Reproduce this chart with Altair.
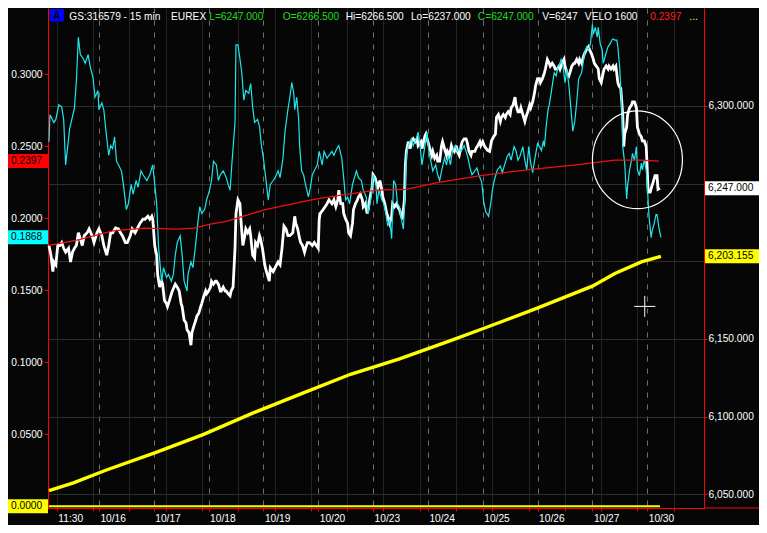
import altair as alt
import pandas as pd

# ---------------- data (bar index = 15-min bar position) ----------------
white = [(42,6210.1),(44,6203.9),(46,6193.3),(47,6199.5),(49,6197.7),(51,6210.1),(53,6210.1),(55,6212.0),(57,6208.3),(59,6205.8),
(62,6208.3),(64,6199.5),(66,6205.8),(68,6208.3),(70,6210.1),(72,6218.3),(74,6214.5),(76,6210.1),(78,6216.4),(81,6218.3),
(83,6220.8),(86,6216.4),(88,6212.0),(91,6218.3),(93,6220.8),(96,6216.4),(98,6210.1),(101,6203.9),(103,6210.1),(105,6218.3),
(107,6218.3),(110,6221.4),(113,6220.8),(115,6218.3),(117,6216.4),(120,6212.0),(122,6212.0),(125,6216.4),(127,6220.8),(130,6218.3),
(132,6220.8),(135,6224.5),(138,6227.0),(140,6227.0),(143,6228.9),(145,6227.0),(147,6228.9),(148,6227.0),(150,6210.1),(152,6203.9),
(153,6191.4),(155,6183.3),(157,6187.1),(158,6185.2),(160,6174.6),(162,6172.7),(163,6170.8),(165,6174.6),(167,6179.0),(168,6180.8),
(171,6185.2),(173,6183.3),(175,6180.8),(177,6172.7),(178,6170.8),(180,6162.1),(182,6160.2),(183,6155.9),(185,6154.0),(187,6145.9),
(188,6154.0),(190,6158.4),(192,6162.1),(193,6164.6),(195,6166.5),(197,6170.8),(198,6172.7),(200,6177.1),(202,6180.8),(203,6179.0),
(205,6180.8),(207,6183.3),(208,6187.1),(210,6185.2),(212,6187.1),(213,6187.1),(215,6185.2),(217,6180.8),(218,6180.8),(220,6183.3),
(222,6180.8),(223,6180.8),(225,6179.0),(227,6177.7),(228,6180.8),(230,6183.3),(232,6208.3),(233,6230.7),(235,6239.5),(237,6237.0),
(238,6227.0),(240,6210.1),(242,6216.4),(243,6220.8),(245,6218.3),(247,6220.8),(248,6216.4),(250,6203.9),(252,6202.0),(253,6212.0),
(255,6210.1),(257,6216.4),(258,6214.5),(260,6208.3),(262,6199.5),(263,6195.8),(265,6191.4),(267,6187.1),(268,6195.8),(271,6193.3),
(273,6195.8),(276,6199.5),(278,6197.7),(280,6208.3),(282,6222.6),(284,6220.8),(286,6216.4),(288,6216.4),(291,6218.3),(293,6228.9),
(294,6224.5),(296,6220.8),(298,6214.5),(299,6212.0),(301,6210.1),(303,6205.8),(304,6208.3),(306,6212.0),(308,6212.0),(311,6210.1),
(313,6212.0),(315,6210.1),(317,6208.3),(318,6227.0),(319,6230.7),(322,6233.2),(324,6235.1),(326,6237.0),(328,6239.5),(331,6237.0),
(333,6239.5),(335,6235.1),(337,6239.5),(338,6245.7),(340,6237.0),(342,6237.0),(343,6230.7),(345,6227.0),(347,6224.5),(348,6218.3),
(350,6216.4),(352,6224.5),(353,6233.2),(355,6237.0),(357,6239.5),(358,6241.3),(360,6243.2),(362,6239.5),(363,6235.1),(365,6237.0),
(367,6230.7),(368,6233.2),(370,6241.3),(372,6247.6),(373,6255.7),(375,6253.8),(377,6249.4),(378,6247.6),(380,6251.9),(382,6245.7),
(383,6241.3),(385,6237.0),(387,6230.7),(388,6228.9),(390,6224.5),(392,6228.9),(393,6237.0),(395,6235.1),(397,6237.0),(398,6235.1),
(400,6233.2),(402,6228.9),(403,6227.0),(405,6239.5),(406,6261.9),(407,6270.7),(409,6276.9),(411,6272.5),(412,6276.9),(414,6278.8),
(416,6276.9),(418,6278.8),(419,6274.4),(422,6276.9),(423,6272.5),(426,6280.6),(427,6281.9),(429,6276.9),(431,6272.5),(433,6268.2),
(434,6270.7),(436,6266.3),(438,6268.2),(439,6264.4),(441,6264.4),(443,6274.4),(444,6276.9),(446,6272.5),(448,6268.2),(449,6270.7),
(451,6268.2),(453,6274.4),(454,6272.5),(456,6270.7),(458,6274.4),(459,6270.7),(461,6268.2),(463,6274.4),(464,6276.9),(466,6278.8),
(468,6278.8),(469,6276.9),(471,6270.7),(473,6268.2),(474,6270.7),(477,6270.7),(478,6272.5),(480,6274.4),(482,6276.9),(483,6274.4),
(485,6276.9),(487,6273.8),(490,6271.3),(492,6270.7),(494,6277.5),(496,6280.0),(498,6281.9),(499,6292.5),(501,6294.4),(503,6290.0),
(504,6292.5),(506,6294.4),(508,6292.5),(509,6294.4),(511,6296.2),(513,6294.4),(514,6298.7),(516,6300.6),(518,6305.6),(519,6300.6),
(521,6296.2),(523,6296.2),(524,6298.7),(526,6294.4),(528,6290.0),(529,6292.5),(531,6296.2),(533,6300.6),(534,6298.7),(536,6302.5),
(538,6308.7),(539,6313.1),(541,6317.5),(543,6317.5),(544,6315.0),(546,6317.5),(548,6321.2),(549,6323.7),(551,6329.9),(553,6327.4),
(554,6325.6),(556,6327.4),(558,6325.6),(559,6323.7),(561,6323.7),(563,6325.6),(564,6323.7),(566,6327.4),(568,6329.9),(569,6325.6),
(571,6321.2),(573,6319.3),(574,6321.2),(576,6325.6),(578,6327.4),(579,6327.4),(581,6329.9),(583,6327.4),(584,6329.9),(586,6327.4),
(588,6331.8),(589,6333.7),(591,6336.2),(593,6338.0),(594,6336.2),(596,6333.7),(598,6329.9),(599,6327.4),(601,6325.6),(603,6323.7),
(604,6317.5),(606,6315.0),(608,6321.2),(609,6323.7),(611,6325.6),(613,6323.7),(614,6325.6),(616,6323.7),(618,6325.6),(619,6323.7),
(621,6325.6),(623,6315.0),(624,6313.1),(626,6311.2),(628,6294.4),(629,6273.8),(630,6281.9),(632,6286.3),(633,6294.4),(635,6298.7),
(637,6300.6),(638,6302.5),(640,6302.5),(642,6298.7),(643,6286.3),(645,6281.9),(647,6280.0),(648,6277.5),(650,6277.5),(652,6273.8),
(653,6258.8),(654,6244.5),(656,6244.5),(658,6248.8),(659,6250.7),(661,6255.1),(663,6255.1),(664,6246.3),(666,6247.0)]

cyan = [(42,0.2531),(43,0.2719),(47,0.2665),(49,0.2686),(52,0.2787),(55,0.2773),(57,0.2686),(59,0.2370),(62,0.2551),(63,0.2618),
(66,0.2706),(68,0.2766),(70,0.2955),(72,0.3257),(74,0.3136),(77,0.3109),(79,0.3076),(82,0.3136),(84,0.3056),(87,0.2975),
(89,0.2840),(92,0.2887),(93,0.2753),(96,0.2800),(98,0.2753),(100,0.2618),(103,0.2437),(105,0.2504),(107,0.2484),(109,0.2565),
(111,0.2396),(113,0.2370),(116,0.2329),(118,0.2235),(121,0.2060),(123,0.2100),(126,0.2235),(128,0.2168),(131,0.2262),(133,0.2215),
(136,0.2329),(138,0.2302),(142,0.2262),(145,0.2302),(148,0.2370),(150,0.2235),(152,0.2100),(154,0.1791),(157,0.1563),(159,0.1657),
(162,0.1589),(164,0.1610),(167,0.1563),(169,0.1610),(171,0.1744),(173,0.1831),(176,0.1878),(178,0.1744),(180,0.1563),(183,0.1495),
(184,0.1610),(187,0.1697),(189,0.1657),(192,0.1831),(194,0.1966),(196,0.2080),(198,0.2033),(201,0.2060),(203,0.2127),(206,0.2195),
(208,0.2262),(210,0.2396),(213,0.2370),(215,0.2262),(217,0.2302),(220,0.2329),(223,0.2282),(225,0.2235),(227,0.2195),(229,0.2396),
(232,0.2665),(233,0.3204),(235,0.3204),(237,0.3109),(239,0.3002),(241,0.2820),(243,0.2887),(246,0.2867),(248,0.2935),(250,0.2773),
(252,0.2665),(255,0.2686),(257,0.2638),(259,0.2504),(261,0.2417),(263,0.2302),(266,0.2127),(268,0.2235),(271,0.2262),(273,0.2282),
(276,0.2329),(278,0.2282),(281,0.2417),(283,0.2598),(286,0.2753),(288,0.2840),(290,0.2941),(292,0.2867),(293,0.2753),(295,0.2840),
(297,0.2686),(298,0.2504),(300,0.2329),(302,0.2302),(304,0.2235),(307,0.2148),(309,0.2215),(311,0.2302),(313,0.2329),(316,0.2370),
(318,0.2464),(321,0.2370),(323,0.2464),(326,0.2417),(328,0.2437),(331,0.2464),(333,0.2437),(336,0.2484),(338,0.2504),(341,0.2417),
(343,0.2282),(345,0.2127),(347,0.2148),(349,0.2100),(352,0.2235),(354,0.2282),(356,0.2329),(358,0.2282),(361,0.2262),(363,0.2195),
(366,0.2148),(368,0.2033),(371,0.2148),(373,0.2302),(376,0.2235),(377,0.2100),(379,0.2195),(382,0.2127),(384,0.2100),(386,0.2033),
(388,0.1946),(390,0.1993),(392,0.1858),(394,0.2262),(396,0.2235),(398,0.2100),(400,0.2080),(402,0.1993),(404,0.1925),(406,0.2235),
(407,0.2437),(409,0.2504),(412,0.2551),(414,0.2504),(417,0.2551),(419,0.2598),(421,0.2504),(423,0.2370),(426,0.2504),(428,0.2598),
(430,0.2464),(432,0.2396),(434,0.2329),(437,0.2370),(439,0.2302),(441,0.2262),(443,0.2329),(446,0.2417),(448,0.2370),(450,0.2437),
(452,0.2370),(454,0.2464),(457,0.2504),(459,0.2464),(461,0.2484),(463,0.2464),(466,0.2504),(468,0.2464),(470,0.2417),(472,0.2350),
(474,0.2302),(477,0.2329),(479,0.2350),(481,0.2302),(484,0.2249),(486,0.2114),(488,0.2047),(491,0.2013),(493,0.2094),(495,0.2201),
(497,0.2269),(500,0.2336),(503,0.2363),(505,0.2316),(507,0.2363),(510,0.2430),(512,0.2450),(514,0.2403),(517,0.2497),(519,0.2470),
(521,0.2403),(523,0.2430),(526,0.2497),(528,0.2403),(530,0.2336),(532,0.2497),(534,0.2383),(536,0.2316),(538,0.2403),(541,0.2518),
(543,0.2497),(545,0.2470),(547,0.2538),(548,0.2497),(550,0.2652),(552,0.2766),(553,0.2787),(555,0.2874),(557,0.2968),(558,0.3009),
(560,0.2988),(562,0.3056),(563,0.3056),(565,0.3103),(567,0.3056),(569,0.2941),(571,0.3035),(573,0.2921),(575,0.2766),(577,0.2605),
(579,0.2672),(581,0.2807),(583,0.2968),(586,0.3009),(587,0.3056),(589,0.3143),(591,0.3190),(593,0.3170),(595,0.3210),(597,0.3345),
(598,0.3277),(600,0.3325),(602,0.3257),(603,0.3325),(605,0.3210),(607,0.3170),(608,0.3076),(610,0.3123),(612,0.3170),(613,0.3190),
(615,0.3210),(617,0.3237),(618,0.3244),(620,0.3237),(622,0.3237),(623,0.3190),(625,0.3035),(627,0.2766),(628,0.2497),(630,0.2383),
(632,0.2134),(633,0.2229),(635,0.2336),(637,0.2403),(638,0.2450),(640,0.2403),(642,0.2497),(643,0.2336),(645,0.2296),(647,0.2383),
(648,0.2336),(650,0.2403),(652,0.2336),(653,0.2229),(655,0.1999),(657,0.1865),(658,0.1912),(660,0.1959),(662,0.2026),(663,0.2026),
(665,0.1932),(667,0.1868)]

red = [(42,0.1811),(73,0.1852),(107,0.1912),(140,0.1932),(173,0.1925),(190,0.1932),(207,0.1959),(223,0.1979),(240,0.2013),
(263,0.2060),(310,0.2127),(340,0.2161),(377,0.2195),(407,0.2201),(440,0.2249),(483,0.2296),(530,0.2336),(580,0.2370),
(620,0.2403),(645,0.2403),(665,0.2397)]

yellow = [(42,6052.3),(67,6057.3),(100,6065.4),(150,6076.6),(200,6088.5),(250,6102.2),(300,6114.7),(350,6127.2),(400,6137.1),
(450,6148.4),(485,6156.5),(540,6169.6),(597,6183.9),(620,6192.1),(647,6199.5),(667,6203.155)]

zero_line = [(42, 666, 0.0)]

day_ticks = [50, 93, 149, 205, 261, 317, 373, 429, 485, 541, 597, 653]
day_labels = ["11:30", "10/16", "10/17", "10/18", "10/19", "10/20", "10/23", "10/24", "10/25", "10/26", "10/27", "10/30"]
grid_ticks = [round(50 + 37.06 * k, 2) for k in range(18)]
left_ticks = [0.0, 0.05, 0.10, 0.15, 0.20, 0.25, 0.30]
right_ticks = [6050, 6100, 6150, 6200, 6250, 6300]

header_items = [("GS:316579 - 15 min", "#FFFFFF", 62.7), ("EUREX", "#FFFFFF", 166.7),
                ("L=6247.000", "#22DD22", 205.7), ("O=6266.500", "#22DD22", 280.7),
                ("Hi=6266.500", "#FFFFFF", 345.0), ("Lo=6237.000", "#FFFFFF", 411.7),
                ("C=6247.000", "#22DD22", 480.0), ("V=6247", "#FFFFFF", 545.7),
                ("VELO 1600", "#FFFFFF", 589.3), ("0.2397", "#FF2020", 656.0), ("...", "#FFFF00", 696.0)]

# ---------------- layout ----------------
PW, PH = 656, 500
REF_X0, REF_W, REF_H = 41, 670, 516
def px(xr):
    return (xr - REF_X0) * PW / REF_W
def py(yr):
    return yr * PH / REF_H

BG = "#060606"
CYAN = "#1EE6EA"
RED = "#F01010"
AXRED = "#FF0000"
YEL = "#FFFF00"
FONT = "Liberation Sans"
FS = 10.2

XDOM = [41, 711]
LDOM = [-0.00114, 0.34594]
RDOM = [6041.1, 6363.0]
xs = alt.Scale(domain=XDOM, nice=False, zero=False)
ls = alt.Scale(domain=LDOM, nice=False, zero=False)
rs = alt.Scale(domain=RDOM, nice=False, zero=False)

x_values = sorted(set(grid_ticks) | set(day_ticks))
day_arr = "[" + ",".join(str(v) for v in day_ticks) + "]"
dash_arr = "[" + ",".join(str(v) for v in day_ticks[1:]) + "]"
lab_arr = "[" + ",".join("'%s'" % s for s in day_labels) + "]"
label_expr = "indexof(%s, datum.value) >= 0 ? %s[indexof(%s, datum.value)] : ''" % (day_arr, lab_arr, day_arr)
is_day = "indexof(%s, datum.value) >= 0" % dash_arr

x_axis = alt.Axis(values=x_values, labelExpr=label_expr, orient="bottom", grid=True,
                  gridColor={"condition": {"test": is_day, "value": "#707070"}, "value": "#2e2e2e"},
                  gridDash={"condition": {"test": is_day, "value": [5, 7]}, "value": [1, 0]},
                  gridWidth=1, domain=True, domainColor=AXRED, domainWidth=1, ticks=True,
                  tickColor=AXRED, tickSize=3, labelColor="#FFFFFF", labelFont=FONT, labelFontSize=FS,
                  labelAlign="left", labelBaseline="top", labelPadding=2, labelOffset=1,
                  labelFlush=False, labelOverlap=False, title=None)
# labels hidden where the last-value boxes cover them
left_axis = alt.Axis(values=left_ticks, format=".4f", orient="left", grid=False, domain=True,
                     domainColor=AXRED, domainWidth=1, ticks=True, tickColor=AXRED, tickSize=4,
                     labelColor="#FFFFFF", labelFont=FONT, labelFontSize=FS, labelPadding=2,
                     labelExpr="datum.value == 0 ? '' : datum.label",
                     labelFlush=False, labelOverlap=False, title=None)
right_axis = alt.Axis(values=right_ticks, format=",.3f", orient="right", grid=True, gridColor="#2e2e2e",
                      gridWidth=1, domain=True, domainColor=AXRED, domainWidth=1, ticks=True,
                      tickColor=AXRED, tickSize=3, labelColor="#FFFFFF", labelFont=FONT,
                      labelExpr="(datum.value == 6200 || datum.value == 6250) ? '' : datum.label",
                      labelFontSize=FS, labelPadding=1, labelFlush=False, labelOverlap=False, title=None)

df_w = pd.DataFrame(white, columns=["bar", "v"])
df_c = pd.DataFrame(cyan, columns=["bar", "v"])
df_r = pd.DataFrame(red, columns=["bar", "v"])
df_y = pd.DataFrame(yellow, columns=["bar", "v"])
df_z = pd.DataFrame(zero_line, columns=["bar", "bar2", "v"])

def X(field="bar:Q"):
    return alt.X(field, scale=xs, axis=x_axis)

# ---------------- price (right scale) ----------------
yel_line = alt.Chart(df_y).mark_line(color=YEL, strokeWidth=3.4).encode(
    x=X(), y=alt.Y("v:Q", scale=rs, axis=None))
white_line = alt.Chart(df_w).mark_line(color="#FFFFFF", strokeWidth=2.8).encode(
    x=X(), y=alt.Y("v:Q", scale=rs, axis=right_axis))

hr = 7 * (RDOM[1] - RDOM[0]) / PH
right_boxes = pd.DataFrame({
    "label": [f"{white[-1][1]:,.3f}", f"{yellow[-1][1]:,.3f}"],
    "v": [white[-1][1], yellow[-1][1]],
    "c": ["#FFFFFF", YEL]})
rbox = alt.Chart(right_boxes).transform_calculate(lo=f"datum.v - {hr}", hi=f"datum.v + {hr}").mark_rect().encode(
    x=alt.value(PW + 1), x2=alt.value(PW + 56),
    y=alt.Y("lo:Q", scale=rs, axis=None), y2="hi:Q", color=alt.Color("c:N", scale=None))
rtext = alt.Chart(right_boxes).mark_text(align="left", baseline="middle", color="#000000", font=FONT, fontSize=FS).encode(
    x=alt.value(PW + 4), y=alt.Y("v:Q", scale=rs, axis=None), text="label:N")

bottom_ext = alt.Chart(pd.DataFrame({"k": [0]})).mark_rule(color=AXRED, strokeWidth=1).encode(
    x=alt.value(PW), x2=alt.value(PW + 60), y=alt.value(PH))

# ---------------- VELO (left scale) ----------------
zero_rule = alt.Chart(df_z).mark_rule(color=YEL, strokeWidth=2).encode(
    x=X(), x2="bar2:Q", y=alt.Y("v:Q", scale=ls, axis=None))
cyan_line = alt.Chart(df_c).mark_line(color=CYAN, strokeWidth=1.2).encode(
    x=X(), y=alt.Y("v:Q", scale=ls, axis=left_axis))
red_line = alt.Chart(df_r).mark_line(color=RED, strokeWidth=1.3).encode(
    x=X(), y=alt.Y("v:Q", scale=ls, axis=None))

hl = 7 * (LDOM[1] - LDOM[0]) / PH
left_boxes = pd.DataFrame({
    "label": [f"{red[-1][1]:.4f}", f"{cyan[-1][1]:.4f}", f"{zero_line[0][2]:.4f}"],
    "v": [red[-1][1], cyan[-1][1], zero_line[0][2]],
    "c": ["#FF0000", "#00FFFF", YEL]})
lbox = alt.Chart(left_boxes).transform_calculate(lo=f"datum.v - {hl}", hi=f"datum.v + {hl}").mark_rect().encode(
    x=alt.value(-40), x2=alt.value(0),
    y=alt.Y("lo:Q", scale=ls, axis=None), y2="hi:Q", color=alt.Color("c:N", scale=None))
ltext = alt.Chart(left_boxes).mark_text(align="left", baseline="middle", color="#000000", font=FONT, fontSize=FS).encode(
    x=alt.value(-37), y=alt.Y("v:Q", scale=ls, axis=None), text="label:N")

circ_df = pd.DataFrame({"bar": [643], "v": [0.2406]})
ellipse = "M -1 0 A 1 1.088 0 1 0 1 0 A 1 1.088 0 1 0 -1 0 Z"
circle = alt.Chart(circ_df).mark_point(shape=ellipse, size=90 * 90, filled=False, color="#FFFFFF",
                                       strokeWidth=1.2, opacity=1).encode(
    x=X(), y=alt.Y("v:Q", scale=ls, axis=None))
cur_df = pd.DataFrame({"bar": [650.5], "v": [0.1388]})
cursor = alt.Chart(cur_df).mark_point(shape="M -1 0 L 1 0 M 0 -1 L 0 1", size=21 * 21, filled=False,
                                      color="#FFFFFF", strokeWidth=1, opacity=1).encode(
    x=X(), y=alt.Y("v:Q", scale=ls, axis=None))

icon = alt.Chart(pd.DataFrame({"k": [0]})).mark_rect(color="#0000FF").encode(
    x=alt.value(px(42.7)), x2=alt.value(px(57.3)), y=alt.value(py(1)), y2=alt.value(py(14)))
icon_t = alt.Chart(pd.DataFrame({"t": ["A"]})).mark_text(align="center", baseline="alphabetic", color="#000000",
                                                         font=FONT, fontSize=10, fontWeight="bold").encode(
    x=alt.value(px(50)), y=alt.value(py(11.5)), text="t:N")
header_layers = []
for txt, col, xr in header_items:
    header_layers.append(
        alt.Chart(pd.DataFrame({"t": [txt]})).mark_text(align="left", baseline="alphabetic", color=col,
                                                        font=FONT, fontSize=FS).encode(
            x=alt.value(px(xr)), y=alt.value(py(12.6)), text="t:N"))

chart = alt.layer(white_line, cyan_line, yel_line, rbox, rtext, bottom_ext, zero_rule, red_line,
                  lbox, ltext, circle, cursor, icon, icon_t, *header_layers).resolve_scale(
    y="independent").properties(
    width=PW, height=PH, background=BG,
    padding={"left": 40, "right": 55, "top": 0, "bottom": 17},
    autosize=alt.AutoSizeParams(type="none")).configure_view(stroke=None)

chart.save("out.html", embed_options={"renderer": "svg", "actions": False})
